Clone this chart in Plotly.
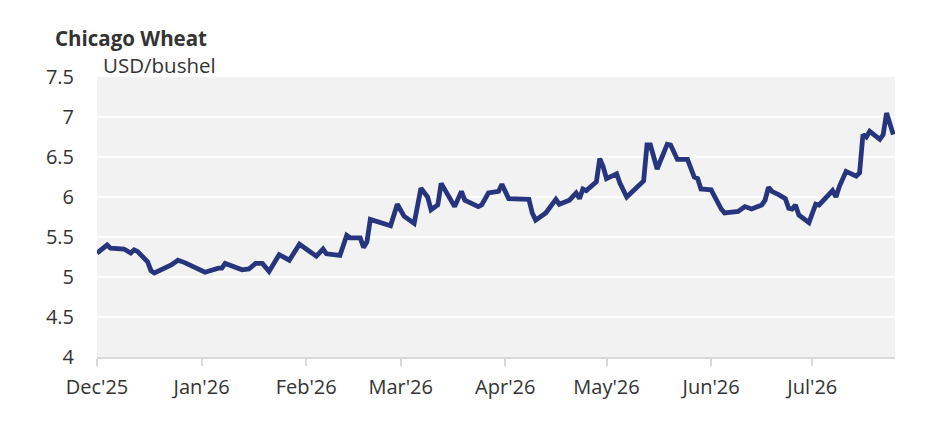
import plotly.graph_objects as go

dates = [
    "2025-12-01", "2025-12-03", "2025-12-04", "2025-12-05", "2025-12-09", "2025-12-11",
    "2025-12-12", "2025-12-13", "2025-12-16", "2025-12-17", "2025-12-18", "2025-12-23",
    "2025-12-25", "2025-12-27", "2026-01-01", "2026-01-02", "2026-01-06", "2026-01-07",
    "2026-01-08", "2026-01-13", "2026-01-15", "2026-01-17", "2026-01-19", "2026-01-21",
    "2026-01-24", "2026-01-27", "2026-01-30", "2026-02-03", "2026-02-04", "2026-02-06",
    "2026-02-07", "2026-02-11", "2026-02-13", "2026-02-14", "2026-02-17", "2026-02-18",
    "2026-02-19", "2026-02-20", "2026-02-25", "2026-02-26", "2026-02-28", "2026-03-02",
    "2026-03-05", "2026-03-07", "2026-03-09", "2026-03-10", "2026-03-12", "2026-03-13",
    "2026-03-17", "2026-03-19", "2026-03-20", "2026-03-24", "2026-03-25", "2026-03-27",
    "2026-03-30", "2026-03-31", "2026-04-02", "2026-04-07", "2026-04-08", "2026-04-09",
    "2026-04-10", "2026-04-13", "2026-04-15", "2026-04-16", "2026-04-17", "2026-04-20",
    "2026-04-22", "2026-04-23", "2026-04-24", "2026-04-25", "2026-04-28", "2026-04-29",
    "2026-04-30", "2026-05-01", "2026-05-04", "2026-05-05", "2026-05-07", "2026-05-12",
    "2026-05-13", "2026-05-14", "2026-05-16", "2026-05-19", "2026-05-20", "2026-05-22",
    "2026-05-25", "2026-05-27", "2026-05-28", "2026-05-29", "2026-06-01", "2026-06-02",
    "2026-06-04", "2026-06-05", "2026-06-09", "2026-06-11", "2026-06-13", "2026-06-16",
    "2026-06-17", "2026-06-18", "2026-06-19", "2026-06-21", "2026-06-23", "2026-06-24",
    "2026-06-25", "2026-06-26", "2026-06-27", "2026-06-30", "2026-07-02", "2026-07-03",
    "2026-07-07", "2026-07-08", "2026-07-09", "2026-07-11", "2026-07-14", "2026-07-15",
    "2026-07-16", "2026-07-17", "2026-07-18", "2026-07-21", "2026-07-22", "2026-07-23",
    "2026-07-24", "2026-07-25",
]

prices = [
    5.30, 5.37, 5.40, 5.36, 5.35, 5.30,
    5.34, 5.32, 5.19, 5.08, 5.05, 5.15,
    5.21, 5.18, 5.07, 5.06, 5.11, 5.11,
    5.17, 5.09, 5.10, 5.17, 5.17, 5.07,
    5.28, 5.21, 5.41, 5.275, 5.26, 5.35,
    5.29, 5.27, 5.52, 5.49, 5.49, 5.37,
    5.44, 5.72, 5.66, 5.64, 5.91, 5.76,
    5.67, 6.11, 6.00, 5.84, 5.90, 6.17,
    5.88, 6.07, 5.96, 5.88, 5.90, 6.05,
    6.07, 6.16, 5.98, 5.96, 5.97, 5.80,
    5.71, 5.80, 5.90, 5.97, 5.91, 5.96,
    6.05, 5.98, 6.10, 6.08, 6.19, 6.48,
    6.38, 6.23, 6.29, 6.17, 6.00, 6.20,
    6.65, 6.65, 6.35, 6.66, 6.65, 6.47,
    6.47, 6.25, 6.23, 6.10, 6.09, 6.00,
    5.85, 5.80, 5.82, 5.88, 5.85, 5.90,
    5.96, 6.12, 6.07, 6.03, 5.98, 5.86,
    5.85, 5.90, 5.775, 5.68, 5.91, 5.90,
    6.08, 6.00, 6.13, 6.32, 6.26, 6.30,
    6.78, 6.75, 6.82, 6.72, 6.78, 7.05,
    6.90, 6.78,
]

title_text = "Chicago Wheat"
unit_text = "USD/bushel"
y_ticks = [4, 4.5, 5, 5.5, 6, 6.5, 7, 7.5]

FONT = "Open Sans"
TXT = "#333333"

fig = go.Figure(
    go.Scatter(
        x=dates, y=prices, mode="lines",
        line=dict(color="#27357f", width=4.8),
        hoverinfo="skip",
    )
)

fig.update_layout(
    width=937, height=435,
    margin=dict(l=89, r=50, t=69, b=86),
    paper_bgcolor="white",
    plot_bgcolor="#f2f2f2",
    showlegend=False,
    font=dict(family=FONT, size=20, color=TXT),
    annotations=[
        dict(text="<b>" + title_text + "</b>", xref="paper", yref="paper",
             x=-44 / 798, y=1 + 39 / 280, xanchor="left", yanchor="middle",
             showarrow=False, font=dict(family=FONT, size=20.5, color=TXT)),
        dict(text=unit_text, xref="paper", yref="paper",
             x=4 / 798, y=1 + 12 / 280, xanchor="left", yanchor="middle",
             showarrow=False, font=dict(family=FONT, size=20.5, color=TXT)),
    ],
)

fig.update_xaxes(
    type="date",
    range=["2025-12-01", "2026-07-25 12:00"],
    dtick="M1", tick0="2025-12-01",
    tickformat="%b'%y",
    showgrid=False,
    showline=True, linecolor="#d9d9d9", linewidth=2,
    ticks="outside", ticklen=7, tickwidth=2, tickcolor="#d9d9d9",
    ticklabelstandoff=4,
    zeroline=False,
)

fig.update_yaxes(
    range=[4, 7.5],
    tickvals=y_ticks,
    showgrid=True, gridcolor="white", gridwidth=2,
    zeroline=False, showline=False,
    ticks="", ticklabelstandoff=22,
)

fig.write_html("out.html")
